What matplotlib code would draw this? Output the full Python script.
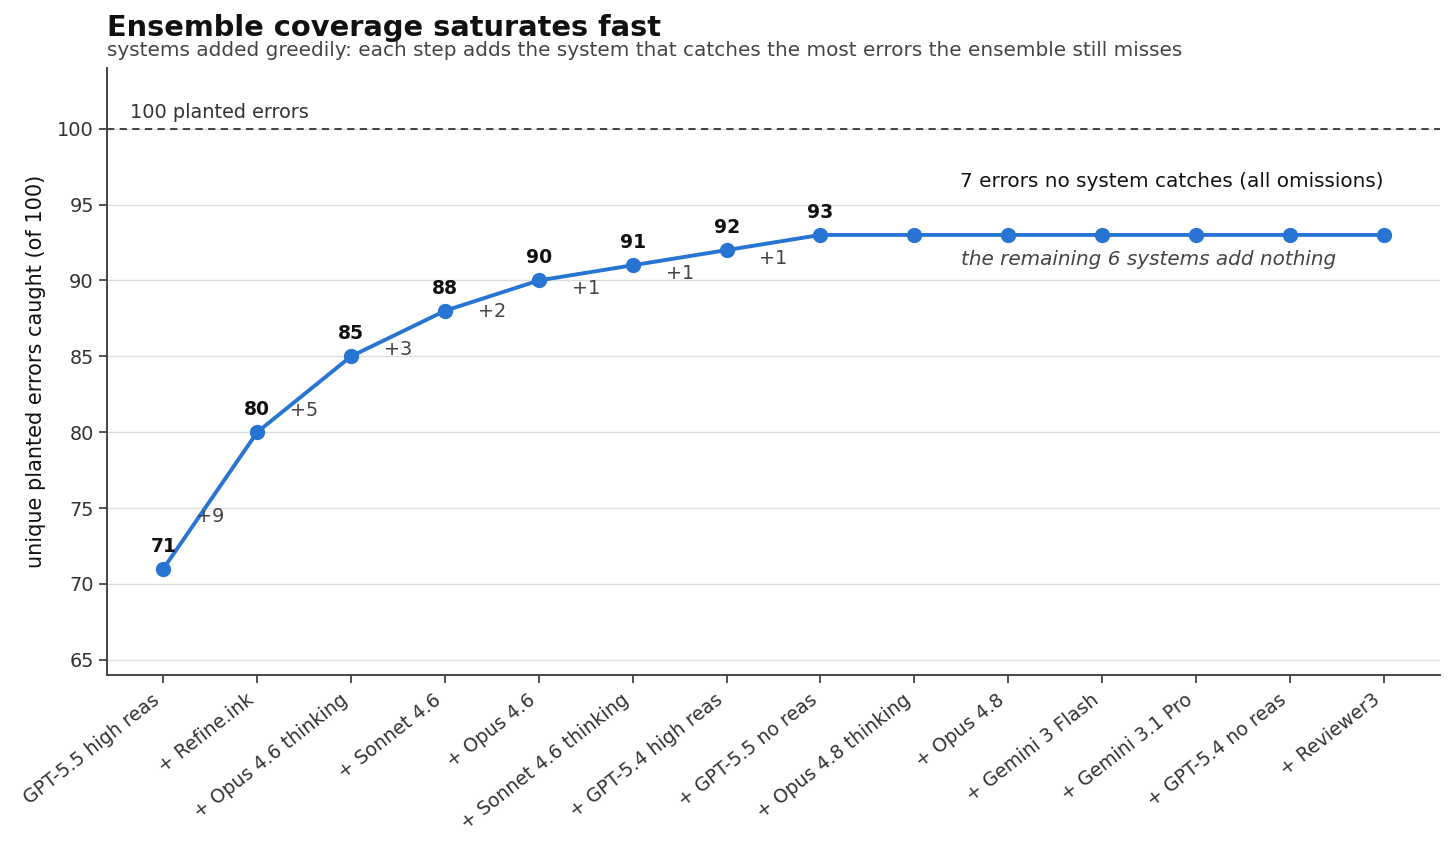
import matplotlib
matplotlib.use("Agg")
import matplotlib.pyplot as plt

systems = ["GPT-5.5 high reas", "+ Refine.ink", "+ Opus 4.6 thinking", "+ Sonnet 4.6",
           "+ Opus 4.6", "+ Sonnet 4.6 thinking", "+ GPT-5.4 high reas", "+ GPT-5.5 no reas",
           "+ Opus 4.8 thinking", "+ Opus 4.8", "+ Gemini 3 Flash", "+ Gemini 3.1 Pro",
           "+ GPT-5.4 no reas", "+ Reviewer3"]
caught = [71, 80, 85, 88, 90, 91, 92, 93, 93, 93, 93, 93, 93, 93]
total_planted = 100
labeled_steps = 8  # value labels shown up to the saturation point

blue = "#2874d2"
dark = "#333333"

fig = plt.figure(figsize=(14.56, 8.52), dpi=100)
ax = fig.add_axes([107/1456, 1-675/852, (1440-107)/1456, (675-68)/852])

x = list(range(len(systems)))
ax.plot(x, caught, color=blue, lw=2.8, marker="o", ms=10, zorder=3)

ax.axhline(total_planted, color="#333333", ls=(0, (4, 3)), lw=1.3, zorder=2)
ax.text(-0.35, 100.45, "100 planted errors", fontsize=13.9, color="#333333", va="bottom", ha="left")

for i in range(labeled_steps):
    ax.annotate(str(caught[i]), (x[i], caught[i]), xytext=(0, 9.5), textcoords="offset points",
                ha="center", va="bottom", fontsize=13.5, fontweight="bold", color="#111111")
for i in range(1, labeled_steps):
    d = caught[i] - caught[i-1]
    mx = (x[i] + x[i-1]) / 2
    my = (caught[i] + caught[i-1]) / 2
    ax.annotate(f"+{d}", (mx, my), xytext=(0, -11.5), textcoords="offset points",
                ha="center", va="center", fontsize=13.9, color="#444444")

ax.text(13, 96.55, f"{total_planted - caught[-1]} errors no system catches (all omissions)",
        ha="right", va="center", fontsize=14.4, color="#111111")
ax.text(8.5, 91.4, f"the remaining {len(systems) - labeled_steps} systems add nothing",
        ha="left", va="center", fontsize=14.4, color="#444444", style="italic")

ax.set_xlim(-0.6, 13.6)
ax.set_ylim(64, 104)
ax.set_yticks([65, 70, 75, 80, 85, 90, 95, 100])
ax.set_xticks(x)
ax.set_xticklabels(systems, rotation=38, ha="right", fontsize=13.6, color=dark)
ax.tick_params(axis="y", labelsize=13.9, labelcolor=dark, color=dark, length=6, width=1.2)
ax.tick_params(axis="x", color=dark, length=6, width=1.2, pad=5)
ax.grid(axis="y", color="#dddddd", lw=1.0, zorder=0)
ax.set_axisbelow(True)
for s in ["top", "right"]:
    ax.spines[s].set_visible(False)
for s in ["left", "bottom"]:
    ax.spines[s].set_color("#444444")
    ax.spines[s].set_linewidth(1.4)
ax.set_ylabel("unique planted errors caught (of 100)", fontsize=15, color="#111111", labelpad=8)

fig.text(107/1456, 1-28/852, "Ensemble coverage saturates fast", fontsize=20.8, fontweight="bold",
         color="#111111", va="center", ha="left")
fig.text(107/1456, 1-50/852,
         "systems added greedily: each step adds the system that catches the most errors the ensemble still misses",
         fontsize=14.4, color="#444444", va="center", ha="left")

fig.savefig("out.png", dpi=100)
